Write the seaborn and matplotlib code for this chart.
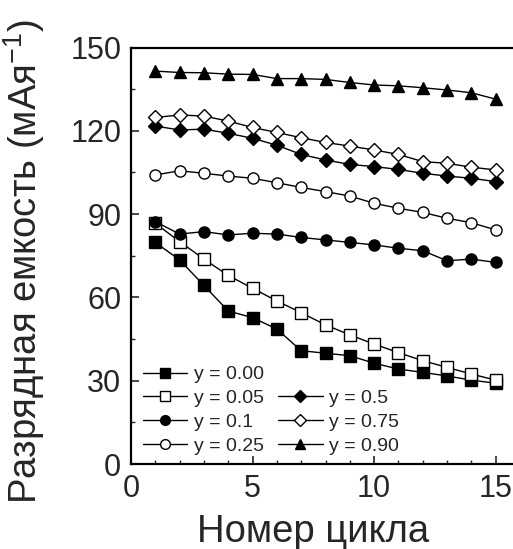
import numpy as np
import pandas as pd
import matplotlib
matplotlib.use("Agg")
import matplotlib.pyplot as plt
from matplotlib.lines import Line2D
from matplotlib.ticker import MultipleLocator
import seaborn as sns

cycles = list(range(1, 16))
y000 = [79.8, 73.5, 64.3, 55.1, 52.7, 48.6, 40.8, 39.9, 39.0, 36.3, 34.2, 33.0, 31.7, 30.2, 29.1]
y005 = [86.7, 80.1, 73.8, 67.9, 63.3, 58.7, 54.5, 50.1, 46.5, 43.2, 40.1, 37.2, 34.8, 32.4, 30.2]
y010 = [87.3, 82.8, 83.7, 82.5, 83.1, 82.8, 81.6, 80.7, 79.8, 78.9, 77.7, 76.8, 73.2, 73.8, 72.6]
y025 = [104.1, 105.6, 104.7, 103.7, 102.9, 101.3, 99.6, 98.1, 96.5, 93.9, 92.1, 90.6, 88.5, 86.9, 84.3]
y050 = [121.7, 120.3, 120.6, 119.1, 117.3, 114.8, 111.5, 109.5, 107.9, 107.1, 106.1, 104.7, 103.7, 102.9, 101.7]
y075 = [124.8, 125.7, 125.3, 123.5, 121.2, 119.4, 117.5, 115.8, 114.5, 113.1, 111.5, 108.9, 108.3, 106.9, 105.9]
y090 = [141.5, 141.0, 140.9, 140.4, 140.3, 138.8, 138.8, 138.5, 137.4, 136.5, 136.2, 135.5, 134.7, 133.7, 131.4]

labels = ["y = 0.00", "y = 0.05", "y = 0.1", "y = 0.25", "y = 0.5", "y = 0.75", "y = 0.90"]
series = [y000, y005, y010, y025, y050, y075, y090]
markers = ["s", "s", "o", "o", "D", "D", "^"]
filled = [True, False, True, False, True, False, True]

sns.set_style("ticks")
plt.rcParams["font.family"] = ["Liberation Sans", "DejaVu Sans"]
plt.rcParams["mathtext.fontset"] = "custom"
plt.rcParams["mathtext.rm"] = "Liberation Sans"
plt.rcParams["mathtext.it"] = "Liberation Sans"
plt.rcParams["mathtext.bf"] = "Liberation Sans"

W, H = 513, 549
fig = plt.figure(figsize=(W / 100, H / 100), dpi=100)
left, right, top, bottom = 131, 520, 47.5, 464
ax = fig.add_axes([left / W, 1 - bottom / H, (right - left) / W, (bottom - top) / H])

handles = []
for lab, vals, m, f in zip(labels, series, markers, filled):
    df = pd.DataFrame({"cycle": cycles, "cap": vals})
    ms = 8.5 if m == "^" else (7.5 if m == "D" else 8)
    sns.lineplot(data=df, x="cycle", y="cap", ax=ax, color="black", linewidth=1.0,
                 marker=m, markersize=ms, markerfacecolor="black" if f else "white",
                 markeredgecolor="black", markeredgewidth=1.0, legend=False)
    handles.append(Line2D([], [], color="black", linewidth=1.0, marker=m, markersize=ms - 1,
                          markerfacecolor="black" if f else "white",
                          markeredgecolor="black", markeredgewidth=1.0))

blank = Line2D([], [], linestyle="none", marker=None)
leg_handles = handles[:4] + [blank] + handles[4:]
leg_labels = labels[:4] + [""] + labels[4:]
leg = ax.legend(leg_handles, leg_labels, ncol=2, loc="lower left",
                bbox_to_anchor=(0.0, -0.006), frameon=False, fontsize=14,
                handlelength=2.3, handletextpad=0.35, columnspacing=0.7,
                labelspacing=0.32, borderaxespad=0.2)

ax.set_xlim(0, 16)
ax.set_ylim(0, 150)
ax.xaxis.set_major_locator(MultipleLocator(5))
ax.xaxis.set_minor_locator(MultipleLocator(1))
ax.yaxis.set_major_locator(MultipleLocator(30))
ax.yaxis.set_minor_locator(MultipleLocator(15))
ax.tick_params(which="major", direction="in", length=6, width=1.2, labelsize=22,
               top=False, right=False, pad=7)
ax.tick_params(which="minor", direction="in", length=3, width=1.0, top=False, right=False)
for s in ax.spines.values():
    s.set_linewidth(1.6)
    s.set_color("black")

ax.set_xlabel("Номер цикла", fontsize=27.5)
ax.xaxis.set_label_coords((313 - left) / (right - left), -50 / (bottom - top))
ax.set_ylabel("Разрядная емкость (мАя$^{-1}$)", fontsize=27.5)
ax.yaxis.set_label_coords(-84 / (right - left), (bottom - 262) / (bottom - top))

fig.savefig("out.png", dpi=100)
